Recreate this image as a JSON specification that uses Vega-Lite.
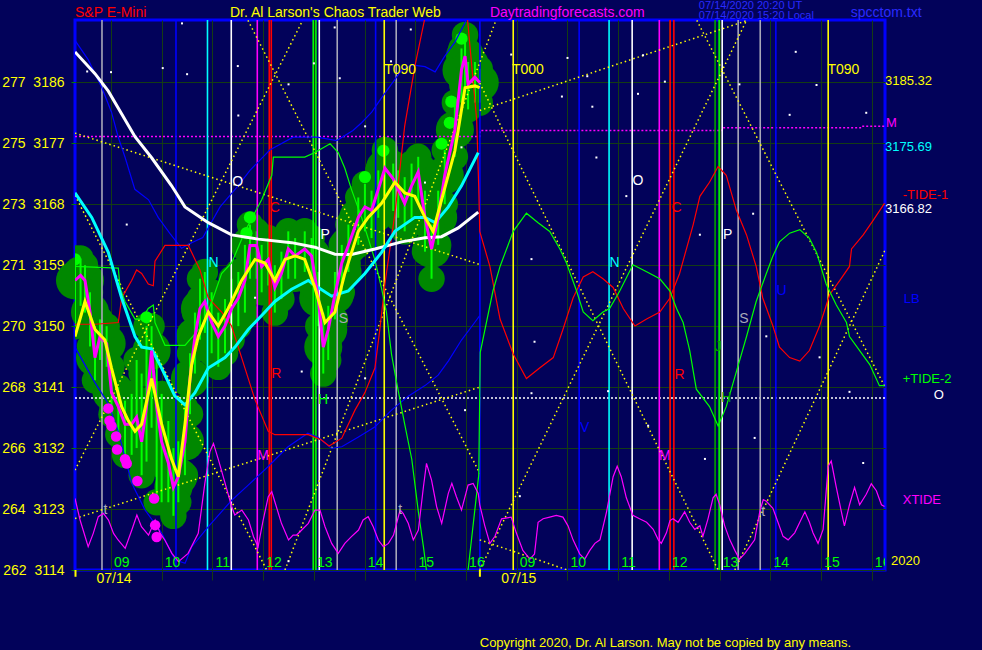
{
"$schema": "https://vega.github.io/schema/vega-lite/v6.json",
"width": 810, "height": 550,
"autosize": {"type": "none"},
"padding": {"left": 75, "top": 20, "right": 97, "bottom": 80},
"background": "#02025a",
"config": {"view": {"stroke": "#0000ff", "strokeWidth": 3}, "text": {"font": "Liberation Sans"}},
"datasets": {
"price": [
{"h":8.29,"p":3156.75,"hi":3160,"lo":3150},{"h":8.40,"p":3157.5,"hi":3160,"lo":3153},{"h":8.487,"p":3156.75,"hi":3159,"lo":3152},{"h":8.586,"p":3152.09,"hi":3155,"lo":3147},{"h":8.684,"p":3145.36,"hi":3150,"lo":3142},{"h":8.783,"p":3148.47,"hi":3151,"lo":3145},{"h":8.914,"p":3147.43,"hi":3150,"lo":3144},{"h":9.01,"p":3140.19,"hi":3144,"lo":3137},{"h":9.144,"p":3138.12,"hi":3141,"lo":3134},{"h":9.276,"p":3135.53,"hi":3139,"lo":3131},{"h":9.407,"p":3135.53,"hi":3140,"lo":3131},{"h":9.505,"p":3136.56,"hi":3145,"lo":3132},{"h":9.604,"p":3132.94,"hi":3143,"lo":3128},{"h":9.70,"p":3138.12,"hi":3150,"lo":3130},{"h":9.80,"p":3146.4,"hi":3150,"lo":3135},{"h":9.90,"p":3138.12,"hi":3146,"lo":3124},{"h":9.998,"p":3132.94,"hi":3140,"lo":3124},{"h":10.13,"p":3129.84,"hi":3136,"lo":3124},{"h":10.23,"p":3126.21,"hi":3132,"lo":3122},{"h":10.327,"p":3127.77,"hi":3133,"lo":3124},{"h":10.458,"p":3132.94,"hi":3138,"lo":3128},{"h":10.557,"p":3142.26,"hi":3146,"lo":3137},{"h":10.655,"p":3148.47,"hi":3152,"lo":3143},{"h":10.754,"p":3152.61,"hi":3157,"lo":3148},{"h":10.85,"p":3153.64,"hi":3158,"lo":3149},{"h":10.984,"p":3150.54,"hi":3155,"lo":3146},{"h":11.115,"p":3148.47,"hi":3152,"lo":3144},{"h":11.247,"p":3150.02,"hi":3154,"lo":3146},{"h":11.378,"p":3152.61,"hi":3157,"lo":3148},{"h":11.51,"p":3154.16,"hi":3158,"lo":3150},{"h":11.64,"p":3156.75,"hi":3162,"lo":3152},{"h":11.74,"p":3161.92,"hi":3165,"lo":3157},{"h":11.87,"p":3161.92,"hi":3164,"lo":3157},{"h":11.97,"p":3158.82,"hi":3162,"lo":3155},{"h":12.10,"p":3159.85,"hi":3163,"lo":3156},{"h":12.23,"p":3155.71,"hi":3159,"lo":3152},{"h":12.36,"p":3157.78,"hi":3161,"lo":3154},{"h":12.495,"p":3161.4,"hi":3164,"lo":3157},{"h":12.63,"p":3160.37,"hi":3163,"lo":3157},{"h":12.82,"p":3161.4,"hi":3164,"lo":3158},{"h":12.955,"p":3160.37,"hi":3163,"lo":3156},{"h":13.086,"p":3154.16,"hi":3158,"lo":3150},{"h":13.185,"p":3146.91,"hi":3152,"lo":3143},{"h":13.283,"p":3149.5,"hi":3153,"lo":3145},{"h":13.415,"p":3154.68,"hi":3158,"lo":3151},{"h":13.55,"p":3159.33,"hi":3162,"lo":3155},{"h":13.68,"p":3161.92,"hi":3165,"lo":3158},{"h":13.875,"p":3166.06,"hi":3169,"lo":3162},{"h":14.006,"p":3167.61,"hi":3171,"lo":3164},{"h":14.137,"p":3167.1,"hi":3170,"lo":3163},{"h":14.27,"p":3170.2,"hi":3173,"lo":3166},{"h":14.40,"p":3173.31,"hi":3176,"lo":3169},{"h":14.564,"p":3171.75,"hi":3174,"lo":3167},{"h":14.663,"p":3170.2,"hi":3173,"lo":3166},{"h":14.79,"p":3168.13,"hi":3172,"lo":3164},{"h":14.926,"p":3170.72,"hi":3174,"lo":3166},{"h":15.057,"p":3172.79,"hi":3175,"lo":3168},{"h":15.19,"p":3166.06,"hi":3170,"lo":3161},{"h":15.32,"p":3161.4,"hi":3165,"lo":3157},{"h":15.45,"p":3166.06,"hi":3170,"lo":3162},{"h":15.58,"p":3172.27,"hi":3176,"lo":3168},{"h":15.78,"p":3179.0,"hi":3183,"lo":3175},{"h":15.91,"p":3187.8,"hi":3191,"lo":3183},{"h":15.98,"p":3189.87,"hi":3193,"lo":3185},{"h":16.04,"p":3185.73,"hi":3189,"lo":3182},{"h":16.175,"p":3186.76,"hi":3189,"lo":3183},{"h":16.27,"p":3185.98,"hi":3188,"lo":3183}
],
"fast": [
{"h":8.29,"p":3148.47},{"h":8.487,"p":3153.64},{"h":8.684,"p":3149.5},{"h":8.88,"p":3147.95},{"h":9.01,"p":3143.81},{"h":9.21,"p":3138.12},{"h":9.34,"p":3136.05},{"h":9.473,"p":3134.49},{"h":9.604,"p":3135.53},{"h":9.80,"p":3142.26},{"h":9.998,"p":3135.53},{"h":10.195,"p":3130.35},{"h":10.327,"p":3127.77},{"h":10.458,"p":3135.53},{"h":10.59,"p":3144.33},{"h":10.72,"p":3148.47},{"h":10.918,"p":3152.09},{"h":11.115,"p":3150.02},{"h":11.31,"p":3152.61},{"h":11.575,"p":3156.75},{"h":11.838,"p":3159.85},{"h":12.035,"p":3159.33},{"h":12.23,"p":3156.75},{"h":12.43,"p":3159.85},{"h":12.63,"p":3160.37},{"h":12.82,"p":3159.85},{"h":13.02,"p":3155.71},{"h":13.22,"p":3150.54},{"h":13.415,"p":3152.09},{"h":13.61,"p":3157.78},{"h":13.875,"p":3163.99},{"h":14.07,"p":3166.06},{"h":14.334,"p":3168.13},{"h":14.597,"p":3171.24},{"h":14.79,"p":3169.68},{"h":14.99,"p":3169.17},{"h":15.19,"p":3166.06},{"h":15.35,"p":3163.99},{"h":15.517,"p":3168.65},{"h":15.78,"p":3175.89},{"h":15.98,"p":3185.21},{"h":16.175,"p":3185.47},{"h":16.27,"p":3185.21}
],
"ma1": [
{"h":8.29,"p":3190.49},{"h":8.684,"p":3187.28},{"h":8.947,"p":3184.69},{"h":9.473,"p":3177.96},{"h":9.801,"p":3174.86},{"h":10.195,"p":3170.72},{"h":10.458,"p":3167.61},{"h":10.918,"p":3165.28},{"h":11.378,"p":3163.47},{"h":11.904,"p":3162.85},{"h":12.56,"p":3162.33},{"h":13.02,"p":3161.66},{"h":13.415,"p":3160.63},{"h":13.743,"p":3160.58},{"h":14.203,"p":3161.4},{"h":14.729,"p":3162.44},{"h":15.19,"p":3163.06},{"h":15.517,"p":3163.21},{"h":15.846,"p":3164.51},{"h":16.24,"p":3166.84}
],
"ma2": [
{"h":8.29,"p":3169.68},{"h":8.62,"p":3166.06},{"h":8.947,"p":3160.89},{"h":9.21,"p":3154.16},{"h":9.473,"p":3148.47},{"h":9.604,"p":3146.91},{"h":9.80,"p":3146.65},{"h":9.998,"p":3143.81},{"h":10.26,"p":3139.67},{"h":10.458,"p":3138.37},{"h":10.655,"p":3140.19},{"h":10.918,"p":3143.81},{"h":11.247,"p":3145.36},{"h":11.444,"p":3146.91},{"h":11.706,"p":3149.5},{"h":11.97,"p":3151.57},{"h":12.23,"p":3153.64},{"h":12.56,"p":3155.45},{"h":12.89,"p":3156.75},{"h":13.086,"p":3155.71},{"h":13.35,"p":3154.42},{"h":13.677,"p":3155.19},{"h":14.006,"p":3157.78},{"h":14.334,"p":3160.89},{"h":14.597,"p":3163.99},{"h":14.99,"p":3166.06},{"h":15.19,"p":3166.06},{"h":15.39,"p":3165.28},{"h":15.65,"p":3167.61},{"h":15.91,"p":3170.72},{"h":16.24,"p":3175.63}
],
"tide1": [
{"h":8.29,"p":3150.28},{"h":8.684,"p":3150.28},{"h":9.144,"p":3150.54},{"h":9.21,"p":3154.16},{"h":9.407,"p":3156.75},{"h":9.505,"p":3158.3},{"h":9.604,"p":3157.78},{"h":9.735,"p":3156.23},{"h":9.834,"p":3155.97},{"h":9.867,"p":3159.59},{"h":10.064,"p":3161.92},{"h":10.524,"p":3161.92},{"h":10.754,"p":3158.3},{"h":10.918,"p":3154.16},{"h":11.18,"p":3152.09},{"h":11.378,"p":3150.02},{"h":11.575,"p":3145.36},{"h":11.838,"p":3139.15},{"h":12.10,"p":3134.49},{"h":12.23,"p":3133.98},{"h":12.89,"p":3133.98},{"h":13.15,"p":3133.2},{"h":13.30,"p":3132.3},{"h":13.55,"p":3133.46},{"h":13.81,"p":3137.6},{"h":14.006,"p":3140.19},{"h":14.203,"p":3143.81},{"h":14.30,"p":3149.5},{"h":14.40,"p":3156.23},{"h":14.597,"p":3166.58},{"h":14.79,"p":3179.52},{"h":14.99,"p":3188.31},{"h":15.19,"p":3195.56},{"h":15.5,"p":3203},{"h":15.9,"p":3203},{"h":16.03,"p":3195.2},{"h":16.21,"p":3180.4},{"h":16.25,"p":3170.5},{"h":16.27,"p":3164.0},{"h":16.47,"p":3158.82},{"h":16.67,"p":3151.05},{"h":16.93,"p":3145.88},{"h":17.19,"p":3142.26},{"h":17.45,"p":3143.81},{"h":17.72,"p":3145.36},{"h":17.91,"p":3149.5},{"h":18.11,"p":3154.16},{"h":18.31,"p":3157.26},{"h":18.5,"p":3158.04},{"h":18.7,"p":3157.0},{"h":18.9,"p":3155.71},{"h":19.1,"p":3152.61},{"h":19.33,"p":3150.02},{"h":19.56,"p":3151.05},{"h":19.82,"p":3152.09},{"h":20.02,"p":3154.16},{"h":20.21,"p":3157.78},{"h":20.48,"p":3165.03},{"h":20.61,"p":3169.17},{"h":20.8,"p":3171.24},{"h":20.97,"p":3173.56},{"h":21.13,"p":3172.27},{"h":21.33,"p":3167.1},{"h":21.53,"p":3163.47},{"h":21.72,"p":3158.82},{"h":21.85,"p":3154.16},{"h":22.05,"p":3150.02},{"h":22.18,"p":3146.91},{"h":22.38,"p":3145.36},{"h":22.58,"p":3144.84},{"h":22.77,"p":3146.4},{"h":22.97,"p":3150.02},{"h":23.17,"p":3154.68},{"h":23.37,"p":3156.75},{"h":23.56,"p":3158.82},{"h":23.6,"p":3161.4},{"h":23.83,"p":3163.47},{"h":24.02,"p":3165.54},{"h":24.25,"p":3168.13}
],
"tide2": [
{"h":8.29,"p":3158.82},{"h":9.144,"p":3158.56},{"h":9.177,"p":3155.71},{"h":9.276,"p":3153.64},{"h":9.473,"p":3151.05},{"h":9.604,"p":3151.05},{"h":9.735,"p":3152.61},{"h":9.834,"p":3153.12},{"h":9.867,"p":3150.54},{"h":10.064,"p":3147.17},{"h":10.458,"p":3147.17},{"h":10.787,"p":3150.0},{"h":10.984,"p":3153.5},{"h":11.18,"p":3157.78},{"h":11.378,"p":3159.33},{"h":11.64,"p":3163.99},{"h":11.97,"p":3168.65},{"h":12.17,"p":3172.27},{"h":12.2,"p":3174.96},{"h":12.82,"p":3174.96},{"h":13.02,"p":3175.63},{"h":13.32,"p":3176.93},{"h":13.48,"p":3175.63},{"h":13.61,"p":3173.31},{"h":13.74,"p":3170.2},{"h":13.94,"p":3166.06},{"h":14.07,"p":3162.96},{"h":14.2,"p":3159.85},{"h":14.33,"p":3155.71},{"h":14.43,"p":3152.09},{"h":14.53,"p":3145.88},{"h":14.63,"p":3141.74},{"h":14.79,"p":3135.53},{"h":14.93,"p":3130.35},{"h":15.06,"p":3122.59},{"h":15.16,"p":3117.42},{"h":15.25,"p":3112.2},{"h":15.6,"p":3100},{"h":15.95,"p":3105},{"h":16.04,"p":3114},{"h":16.25,"p":3128},{"h":16.28,"p":3146.14},{"h":16.53,"p":3155.19},{"h":16.67,"p":3158.82},{"h":16.93,"p":3163.99},{"h":17.19,"p":3166.68},{"h":17.42,"p":3165.28},{"h":17.65,"p":3163.99},{"h":17.85,"p":3161.4},{"h":17.98,"p":3159.33},{"h":18.18,"p":3155.19},{"h":18.31,"p":3152.09},{"h":18.5,"p":3150.79},{"h":18.7,"p":3152.09},{"h":18.83,"p":3152.61},{"h":19.03,"p":3155.19},{"h":19.29,"p":3159.07},{"h":19.56,"p":3158.04},{"h":19.82,"p":3157.0},{"h":20.02,"p":3155.19},{"h":20.15,"p":3152.61},{"h":20.28,"p":3150.54},{"h":20.41,"p":3146.4},{"h":20.54,"p":3140.7},{"h":20.8,"p":3138.12},{"h":20.97,"p":3135.27},{"h":21.13,"p":3138.12},{"h":21.33,"p":3143.29},{"h":21.53,"p":3148.47},{"h":21.72,"p":3153.64},{"h":21.92,"p":3157.78},{"h":22.05,"p":3160.37},{"h":22.18,"p":3162.44},{"h":22.38,"p":3163.73},{"h":22.58,"p":3164.25},{"h":22.77,"p":3162.96},{"h":22.91,"p":3160.89},{"h":23.1,"p":3156.23},{"h":23.3,"p":3153.12},{"h":23.5,"p":3150.54},{"h":23.56,"p":3148.47},{"h":23.76,"p":3146.4},{"h":23.96,"p":3144.33},{"h":24.15,"p":3141.22},{"h":24.25,"p":3141.22}
],
"lb": [
{"seg":1,"h":8.29,"p":3192.19},{"seg":1,"h":8.55,"p":3189.35},{"seg":1,"h":8.82,"p":3185.21},{"seg":1,"h":9.01,"p":3181.59},{"seg":1,"h":9.14,"p":3177.96},{"seg":1,"h":9.28,"p":3174.86},{"seg":1,"h":9.47,"p":3170.2},{"seg":1,"h":9.74,"p":3168.65},{"seg":1,"h":9.93,"p":3166.06},{"seg":1,"h":10.16,"p":3163.7},{"seg":1,"h":10.39,"p":3161.5},{"seg":1,"h":10.56,"p":3162.2},{"seg":1,"h":10.81,"p":3163.1},{"seg":1,"h":11.15,"p":3167.6},{"seg":1,"h":11.48,"p":3170.5},{"seg":1,"h":11.74,"p":3173.0},{"seg":1,"h":12.13,"p":3176.0},{"seg":1,"h":12.59,"p":3177.9},{"seg":1,"h":13.06,"p":3177.9},{"seg":1,"h":13.45,"p":3177.4},{"seg":1,"h":13.77,"p":3178.9},{"seg":1,"h":13.94,"p":3180.03},{"seg":1,"h":14.14,"p":3181.59},{"seg":1,"h":14.33,"p":3183.66},{"seg":1,"h":14.53,"p":3185.73},{"seg":1,"h":14.73,"p":3187.8},{"seg":1,"h":14.93,"p":3188.57},{"seg":1,"h":15.19,"p":3188.31},{"seg":1,"h":15.39,"p":3187.54},{"seg":1,"h":15.58,"p":3189.87},{"seg":1,"h":15.78,"p":3191.94},{"seg":1,"h":15.98,"p":3194.78},{"seg":1,"h":16.05,"p":3196},
{"seg":2,"h":8.29,"p":3146.9},{"seg":2,"h":8.68,"p":3141.7},{"seg":2,"h":8.95,"p":3138.5},{"seg":2,"h":9.14,"p":3134.5},{"seg":2,"h":9.41,"p":3126.8},{"seg":2,"h":9.67,"p":3122.85},{"seg":2,"h":10.0,"p":3119.46},{"seg":2,"h":10.26,"p":3115.5},{"seg":2,"h":10.46,"p":3115.0},{"seg":2,"h":10.59,"p":3117.4},{"seg":2,"h":10.92,"p":3120.4},{"seg":2,"h":11.38,"p":3124.3},{"seg":2,"h":11.7,"p":3126.5},{"seg":2,"h":12.09,"p":3129.2},{"seg":2,"h":12.49,"p":3132.2},{"seg":2,"h":12.88,"p":3134.2},{"seg":2,"h":13.08,"p":3133.6},{"seg":2,"h":13.35,"p":3131.96},{"seg":2,"h":13.55,"p":3132.2},{"seg":2,"h":13.87,"p":3133.6},{"seg":2,"h":14.2,"p":3135.1},{"seg":2,"h":14.53,"p":3137.6},{"seg":2,"h":14.86,"p":3139.67},{"seg":2,"h":15.19,"p":3141.22},{"seg":2,"h":15.45,"p":3142.77},{"seg":2,"h":15.65,"p":3144.84},{"seg":2,"h":15.91,"p":3147.95},{"seg":2,"h":16.17,"p":3150.54},{"seg":2,"h":16.27,"p":3151.57}
],
"xtide": [
{"h":8.29,"p":3124.57},{"h":8.39,"p":3121.38},{"h":8.55,"p":3117.44},{"h":8.65,"p":3119.41},{"h":8.75,"p":3121.87},{"h":8.85,"p":3122.36},{"h":8.95,"p":3121.38},{"h":9.05,"p":3119.41},{"h":9.14,"p":3118.43},{"h":9.28,"p":3117.2},{"h":9.41,"p":3119.9},{"h":9.51,"p":3122.11},{"h":9.6,"p":3120.39},{"h":9.74,"p":3119.16},{"h":9.87,"p":3121.38},{"h":9.97,"p":3119.41},{"h":10.06,"p":3118.43},{"h":10.2,"p":3116.46},{"h":10.33,"p":3115.23},{"h":10.52,"p":3116.46},{"h":10.72,"p":3119.41},{"h":10.85,"p":3126.79},{"h":10.95,"p":3131.46},{"h":11.02,"p":3132.69},{"h":11.12,"p":3130.23},{"h":11.25,"p":3126.79},{"h":11.38,"p":3123.34},{"h":11.44,"p":3122.11},{"h":11.58,"p":3122.85},{"h":11.71,"p":3121.38},{"h":11.81,"p":3118.92},{"h":11.9,"p":3117.44},{"h":12.0,"p":3121.38},{"h":12.1,"p":3124.82},{"h":12.17,"p":3125.56},{"h":12.23,"p":3124.08},{"h":12.36,"p":3120.89},{"h":12.5,"p":3118.43},{"h":12.59,"p":3119.16},{"h":12.66,"p":3119.16},{"h":12.76,"p":3119.9},{"h":12.89,"p":3120.89},{"h":13.02,"p":3122.85},{"h":13.12,"p":3122.85},{"h":13.22,"p":3120.39},{"h":13.35,"p":3117.93},{"h":13.48,"p":3116.46},{"h":13.61,"p":3117.93},{"h":13.74,"p":3118.92},{"h":13.88,"p":3119.9},{"h":13.97,"p":3121.38},{"h":14.07,"p":3121.87},{"h":14.17,"p":3120.39},{"h":14.27,"p":3118.43},{"h":14.37,"p":3117.44},{"h":14.47,"p":3117.93},{"h":14.57,"p":3119.16},{"h":14.7,"p":3122.85},{"h":14.76,"p":3122.36},{"h":14.86,"p":3120.89},{"h":14.96,"p":3118.43},{"h":15.06,"p":3119.9},{"h":15.16,"p":3126.29},{"h":15.22,"p":3129.74},{"h":15.32,"p":3127.28},{"h":15.42,"p":3123.34},{"h":15.52,"p":3120.89},{"h":15.65,"p":3125.31},{"h":15.72,"p":3126.79},{"h":15.81,"p":3124.82},{"h":15.91,"p":3122.85},{"h":16.04,"p":3126.54},{"h":16.14,"p":3126.79},{"h":16.24,"p":3125.31},
{"h":16.27,"p":3123.63},{"h":16.37,"p":3120.52},{"h":16.47,"p":3117.93},{"h":16.57,"p":3118.97},{"h":16.7,"p":3121.56},{"h":16.89,"p":3121.81},{"h":16.99,"p":3119.49},{"h":17.12,"p":3116.9},{"h":17.26,"p":3115.6},{"h":17.35,"p":3116.38},{"h":17.42,"p":3121.04},{"h":17.52,"p":3121.56},{"h":17.65,"p":3121.81},{"h":17.78,"p":3122.07},{"h":17.91,"p":3121.81},{"h":18.01,"p":3120.52},{"h":18.11,"p":3118.45},{"h":18.24,"p":3116.38},{"h":18.34,"p":3115.6},{"h":18.44,"p":3116.9},{"h":18.54,"p":3117.93},{"h":18.64,"p":3118.45},{"h":18.77,"p":3122.59},{"h":18.9,"p":3127.77},{"h":18.98,"p":3129.32},{"h":19.06,"p":3127.77},{"h":19.16,"p":3124.66},{"h":19.29,"p":3122.07},{"h":19.42,"p":3121.56},{"h":19.56,"p":3121.04},{"h":19.69,"p":3120.0},{"h":19.79,"p":3118.45},{"h":19.85,"p":3117.93},{"h":19.95,"p":3119.49},{"h":20.02,"p":3121.3},{"h":20.08,"p":3121.56},{"h":20.18,"p":3121.04},{"h":20.31,"p":3122.59},{"h":20.41,"p":3121.04},{"h":20.51,"p":3120.0},{"h":20.61,"p":3120.52},{"h":20.67,"p":3118.97},{"h":20.77,"p":3121.56},{"h":20.87,"p":3124.66},{"h":20.93,"p":3125.18},{"h":21.0,"p":3123.63},{"h":21.1,"p":3120.52},{"h":21.2,"p":3118.45},{"h":21.3,"p":3116.9},{"h":21.39,"p":3115.6},{"h":21.49,"p":3116.38},{"h":21.59,"p":3117.42},{"h":21.69,"p":3118.45},{"h":21.79,"p":3122.59},{"h":21.86,"p":3124.4},{"h":21.92,"p":3124.14},{"h":22.05,"p":3123.11},{"h":22.15,"p":3121.04},{"h":22.25,"p":3118.97},{"h":22.35,"p":3118.45},{"h":22.48,"p":3119.49},{"h":22.58,"p":3121.04},{"h":22.68,"p":3122.59},{"h":22.77,"p":3121.04},{"h":22.84,"p":3119.49},{"h":22.94,"p":3117.93},{"h":23.04,"p":3120.0},{"h":23.14,"p":3129.32},{"h":23.2,"p":3130.09},{"h":23.3,"p":3126.21},{"h":23.4,"p":3122.59},{"h":23.46,"p":3120.52},{"h":23.56,"p":3123.63},{"h":23.66,"p":3126.21},{"h":23.76,"p":3123.63},{"h":23.89,"p":3125.18},{"h":23.99,"p":3126.73},{"h":24.09,"p":3125.7},{"h":24.19,"p":3123.63},{"h":24.25,"p":3123.37}
],
"vlines": [
{"h":8.822,"k":"gray"},{"h":10.281,"k":"blue"},{"h":10.902,"k":"cyan"},{"h":11.371,"k":"white"},{"h":11.884,"k":"magenta"},{"h":12.12,"k":"red"},{"h":12.16,"k":"red"},{"h":12.987,"k":"green"},{"h":13.04,"k":"green"},{"h":13.106,"k":"white"},{"h":13.46,"k":"gray"},{"h":14.217,"k":"blue"},{"h":14.387,"k":"yellow"},{"h":14.623,"k":"gray"},{"h":16.273,"k":"blue"},
{"h":16.93,"k":"yellow"},{"h":18.23,"k":"blue"},{"h":18.82,"k":"cyan"},{"h":19.275,"k":"white"},{"h":19.81,"k":"magenta"},{"h":20.024,"k":"red"},{"h":20.097,"k":"red"},{"h":20.91,"k":"dkgreen"},{"h":20.99,"k":"green"},{"h":21.05,"k":"white"},{"h":21.365,"k":"gray"},{"h":21.8,"k":"gray"},{"h":22.108,"k":"blue"},{"h":23.14,"k":"yellow"}
],
"diag": [
{"id":"a","h":8.29,"p":3178.5},{"id":"a","h":16.27,"p":3159.1},
{"id":"b","h":8.29,"p":3121.6},{"id":"b","h":16.27,"p":3141.0},
{"id":"B","h":8.29,"p":3128.75},{"id":"B","h":12.78,"p":3195.15},
{"id":"C","h":8.29,"p":3169.3},{"id":"C","h":12.07,"p":3114},
{"id":"D","h":11.7,"p":3195.15},{"id":"D","h":16.27,"p":3128.3},
{"id":"E","h":12.43,"p":3114},{"id":"E","h":16.59,"p":3195.15},
{"id":"c","h":16.27,"p":3181.84},{"id":"c","h":21.53,"p":3195.1},
{"id":"d","h":16.27,"p":3118.45},{"id":"d","h":17.98,"p":3114.05},
{"id":"g","h":16.27,"p":3185.9},{"id":"g","h":20.97,"p":3114},
{"id":"h2","h":16.27,"p":3114},{"id":"h2","h":21.53,"p":3195.15},
{"id":"i","h":20.55,"p":3195.15},{"id":"i","h":24.26,"p":3141},
{"id":"j","h":21.3,"p":3114},{"id":"j","h":24.26,"p":3161.2}
],
"mline": [{"h":8.29,"p":3178.0},{"h":16.27,"p":3178.0},{"h":16.28,"p":3178.9},{"h":21.05,"p":3178.9},{"h":21.06,"p":3179.3},{"h":23.8,"p":3179.3},{"h":23.81,"p":3179.5},{"h":24.26,"p":3179.5}],
"oline": [{"h":8.29,"p":3139.4},{"h":24.26,"p":3139.4}],
"lows": [{"h":8.947,"p":3137.86},{"h":8.97,"p":3136.05},{"h":9.01,"p":3135.27},{"h":9.1,"p":3133.72},{"h":9.12,"p":3131.8},{"h":9.276,"p":3130.35},{"h":9.31,"p":3129.73},{"h":9.52,"p":3127.14},{"h":9.85,"p":3124.56},{"h":9.87,"p":3120.62},{"h":9.9,"p":3118.86}],
"highs": [{"h":8.29,"p":3159.85},{"h":9.7,"p":3151.31},{"h":11.74,"p":3166.06},{"h":11.67,"p":3163.73},{"h":14.006,"p":3172.01},{"h":14.37,"p":3175.89},{"h":15.517,"p":3176.93},{"h":15.68,"p":3180.03},{"h":15.71,"p":3183.14},{"h":15.91,"p":3192.45}],
"stars": [
{"h":10.4,"p":3194.7},{"h":10.02,"p":3188.1},{"h":10.5,"p":3187.2},{"h":11.5,"p":3188.4},{"h":13.0,"p":3188.8},{"h":13.41,"p":3194.1},{"h":13.51,"p":3186.6},{"h":14.91,"p":3193.8},{"h":14.52,"p":3189.1},{"h":9.0,"p":3187.5},{"h":8.53,"p":3187.6},{"h":9.31,"p":3165.0},{"h":11.51,"p":3181.1},{"h":12.5,"p":3185.7},{"h":14.01,"p":3179.5},{"h":15.19,"p":3171.2},{"h":15.91,"p":3176.4},{"h":12.76,"p":3143.3},{"h":14.01,"p":3142.3},{"h":15.98,"p":3137.6},{"h":11.84,"p":3154.2},{"h":12.5,"p":3115.3},{"h":10.69,"p":3147.4},
{"h":18.0,"p":3189.6},{"h":19.49,"p":3190.0},{"h":18.39,"p":3186.9},{"h":16.89,"p":3190.1},{"h":17.89,"p":3183.9},{"h":18.49,"p":3182.4},{"h":19.39,"p":3184.3},{"h":22.91,"p":3185.6},{"h":22.38,"p":3181.2},{"h":23.89,"p":3181.5},{"h":22.5,"p":3190.5},{"h":21.39,"p":3185.7},{"h":21.66,"p":3166.6},{"h":20.61,"p":3163.5},{"h":19.92,"p":3186.1},{"h":17.29,"p":3159.9},{"h":17.35,"p":3147.7},{"h":19.16,"p":3169.2},{"h":18.8,"p":3140.4},{"h":17.29,"p":3140.1},{"h":19.59,"p":3135.3},{"h":20.71,"p":3130.4},{"h":21.69,"p":3133.5},{"h":22.97,"p":3145.4},{"h":23.56,"p":3140.3},{"h":21.92,"p":3148.5},{"h":18.57,"p":3174.9},{"h":17.06,"p":3124.9},{"h":23.83,"p":3129.8}
],
"letters": [
{"h":11.5,"p":3171.3,"t":"O","k":"white"},{"h":11.02,"p":3159.3,"t":"N","k":"cyan"},{"h":12.23,"p":3167.4,"t":"C","k":"red"},{"h":13.22,"p":3163.4,"t":"P","k":"white"},{"h":13.58,"p":3151.1,"t":"S","k":"gray"},{"h":12.26,"p":3142.9,"t":"R","k":"red"},{"h":12.0,"p":3130.9,"t":"M","k":"magenta"},{"h":13.18,"p":3139.1,"t":"H","k":"green"},{"h":8.89,"p":3122.8,"t":"t","k":"gray"},{"h":14.7,"p":3122.8,"t":"t","k":"gray"},{"h":14.7,"p":3187.8,"t":"T090","k":"yellow"},
{"h":19.39,"p":3171.4,"t":"O","k":"white"},{"h":18.93,"p":3159.3,"t":"N","k":"cyan"},{"h":20.15,"p":3167.4,"t":"C","k":"red"},{"h":21.16,"p":3163.5,"t":"P","k":"white"},{"h":21.48,"p":3151.1,"t":"S","k":"gray"},{"h":20.21,"p":3142.8,"t":"R","k":"red"},{"h":19.92,"p":3130.9,"t":"M","k":"magenta"},{"h":20.97,"p":3146.9,"t":"J","k":"dkgreen"},{"h":21.13,"p":3139.4,"t":"H","k":"dkgreen"},{"h":21.86,"p":3122.6,"t":"t","k":"gray"},{"h":18.34,"p":3135.0,"t":"V","k":"blue"},{"h":22.22,"p":3155.2,"t":"U","k":"blue"},{"h":17.22,"p":3187.8,"t":"T000","k":"yellow"},{"h":23.44,"p":3187.8,"t":"T090","k":"yellow"}
],
"hrs": [
{"h":9.06,"t":"09"},{"h":10.06,"t":"10"},{"h":11.06,"t":"11"},{"h":12.06,"t":"12"},{"h":13.06,"t":"13"},{"h":14.06,"t":"14"},{"h":15.06,"t":"15"},{"h":16.06,"t":"16"},{"h":17.06,"t":"09"},{"h":18.06,"t":"10"},{"h":19.06,"t":"11"},{"h":20.06,"t":"12"},{"h":21.06,"t":"13"},{"h":22.06,"t":"14"},{"h":23.06,"t":"15"},{"h":24.06,"t":"16"}
],
"side": [
{"h":24.26,"p":3186.15,"t":"3185.32","k":"yellow"},{"h":24.28,"p":3180.0,"t":"M","k":"magenta"},{"h":24.26,"p":3176.5,"t":"3175.69","k":"cyan"},{"h":24.61,"p":3169.3,"t":"-TIDE-1","k":"red"},{"h":24.26,"p":3167.3,"t":"3166.82","k":"white"},{"h":24.63,"p":3154.0,"t":"LB","k":"blue"},{"h":24.61,"p":3142.2,"t":"+TIDE-2","k":"green"},{"h":25.22,"p":3139.9,"t":"O","k":"white"},{"h":24.61,"p":3124.3,"t":"XTIDE","k":"magenta"},{"h":24.38,"p":3115.3,"t":"2020","k":"yellow"},{"h":16.27,"p":3103.2,"t":"Copyright 2020, Dr. Al Larson. May not be copied by any means.","k":"yellow"}
],
"titles": [
{"h":8.29,"p":3196.2,"t":"S&P E-Mini","k":"red"},{"h":11.345,"p":3196.2,"t":"Dr. Al Larson's Chaos Trader Web","k":"yellow"},{"h":16.47,"p":3196.2,"t":"Daytradingforecasts.com","k":"magenta"},{"h":23.586,"p":3196.3,"t":"spcctom.txt","k":"navy"}
],
"small": [
{"h":20.59,"p":3197.3,"t":"07/14/2020 20:20  UT"},{"h":20.59,"p":3195.8,"t":"07/14/2020 15:20  Local"}
],
"dates": [{"h":9.06,"p":3112.67,"t":"07/14"},{"h":17.04,"p":3112.67,"t":"07/15"}],
"dayticks": [{"h":8.3},{"h":16.273}]
},
"layer": [
{"data":{"name":"price"},"mark":{"type":"circle","color":"#008800","opacity":1,"size":1450},
 "encoding":{
  "x":{"field":"h","type":"quantitative","title":null,"scale":{"domain":[8.29,24.26],"nice":false,"zero":false},
       "axis":{"values":[9,10,11,12,13,14,15,16,17,18,19,20,21,22,23,24],"grid":true,"gridColor":"#143c14","gridOpacity":1,"labels":false,"ticks":true,"tickColor":"#143c14","tickSize":10,"domain":false,"title":null}},
  "y":{"field":"p","type":"quantitative","title":null,"scale":{"domain":[3114,3195.2],"nice":false,"zero":false},
       "axis":{"values":[3114,3123,3132,3141,3150,3159,3168,3177,3186],"grid":true,"gridColor":"#143c14","gridOpacity":1,"domain":false,"title":null,"tickColor":"#008000","tickSize":4,"labelPadding":7,"labelColor":"#ffff00","labelFont":"Liberation Sans","labelFontSize":14,
       "labelExpr":"(datum.value==3114?'262':datum.value==3123?'264':datum.value==3132?'266':datum.value==3141?'268':datum.value==3150?'270':datum.value==3159?'271':datum.value==3168?'273':datum.value==3177?'275':'277') + '\u00a0\u00a0' + datum.value"}}}},
{"data":{"name":"price"},"mark":{"type":"circle","color":"#008800","opacity":1,"size":700,"clip":true},
 "encoding":{"x":{"field":"h","type":"quantitative","title":null},"y":{"field":"hi","type":"quantitative","title":null}}},
{"data":{"name":"price"},"mark":{"type":"circle","color":"#008800","opacity":1,"size":700,"clip":true},
 "encoding":{"x":{"field":"h","type":"quantitative","title":null},"y":{"field":"lo","type":"quantitative","title":null}}},
{"data":{"name":"mline"},"mark":{"type":"line","color":"#ff00ff","strokeWidth":1.5,"strokeDash":[2,2],"clip":true},
 "encoding":{"x":{"field":"h","type":"quantitative","title":null},"y":{"field":"p","type":"quantitative","title":null}}},
{"data":{"name":"oline"},"mark":{"type":"line","color":"#ffffff","strokeWidth":1.5,"strokeDash":[2,2],"clip":true},
 "encoding":{"x":{"field":"h","type":"quantitative","title":null},"y":{"field":"p","type":"quantitative","title":null}}},
{"data":{"name":"price"},"mark":{"type":"rule","color":"#00ff00","strokeWidth":2,"clip":true},
 "encoding":{"x":{"field":"h","type":"quantitative","title":null},"y":{"field":"lo","type":"quantitative","title":null},"y2":{"field":"hi"}}},
{"data":{"name":"highs"},"mark":{"type":"circle","color":"#00ff00","opacity":1,"size":150,"clip":true},
 "encoding":{"x":{"field":"h","type":"quantitative","title":null},"y":{"field":"p","type":"quantitative","title":null}}},
{"data":{"name":"vlines"},"mark":{"type":"rule","strokeWidth":1.6},
 "encoding":{"x":{"field":"h","type":"quantitative","title":null},
  "color":{"field":"k","type":"nominal","legend":null,"scale":{"domain":["gray","white","cyan","blue","magenta","red","green","dkgreen","yellow","navy"],"range":["#a8a8b8","#ffffff","#00ffff","#0000ff","#ff00ff","#ff0000","#00ff00","#00a000","#ffff00","#2a2aff"]}}}},
{"data":{"name":"diag"},"mark":{"type":"line","color":"#ffff00","strokeWidth":1.5,"strokeDash":[1.5,3],"clip":true},
 "encoding":{"x":{"field":"h","type":"quantitative","title":null},"y":{"field":"p","type":"quantitative","title":null},"detail":{"field":"id"}}},
{"data":{"name":"lb"},"mark":{"type":"line","color":"#0000ff","strokeWidth":1.2,"clip":true},
 "encoding":{"x":{"field":"h","type":"quantitative","title":null},"y":{"field":"p","type":"quantitative","title":null},"detail":{"field":"seg"}}},
{"data":{"name":"tide1"},"mark":{"type":"line","color":"#ff0000","strokeWidth":1.2,"clip":true},
 "encoding":{"x":{"field":"h","type":"quantitative","title":null},"y":{"field":"p","type":"quantitative","title":null}}},
{"data":{"name":"tide2"},"mark":{"type":"line","color":"#00ff00","strokeWidth":1.2,"clip":true},
 "encoding":{"x":{"field":"h","type":"quantitative","title":null},"y":{"field":"p","type":"quantitative","title":null}}},
{"data":{"name":"xtide"},"mark":{"type":"line","color":"#ff00ff","strokeWidth":1.2,"clip":true},
 "encoding":{"x":{"field":"h","type":"quantitative","title":null},"y":{"field":"p","type":"quantitative","title":null}}},
{"data":{"name":"ma1"},"mark":{"type":"line","color":"#ffffff","strokeWidth":3,"clip":true},
 "encoding":{"x":{"field":"h","type":"quantitative","title":null},"y":{"field":"p","type":"quantitative","title":null}}},
{"data":{"name":"ma2"},"mark":{"type":"line","color":"#00ffff","strokeWidth":3,"clip":true},
 "encoding":{"x":{"field":"h","type":"quantitative","title":null},"y":{"field":"p","type":"quantitative","title":null}}},
{"data":{"name":"stars"},"mark":{"type":"square","color":"#ffffff","opacity":1,"size":4},
 "encoding":{"x":{"field":"h","type":"quantitative","title":null},"y":{"field":"p","type":"quantitative","title":null}}},
{"data":{"name":"lows"},"mark":{"type":"circle","color":"#ff00ff","opacity":1,"size":110},
 "encoding":{"x":{"field":"h","type":"quantitative","title":null},"y":{"field":"p","type":"quantitative","title":null}}},
{"data":{"name":"price"},"mark":{"type":"line","color":"#ff00ff","strokeWidth":3,"clip":true},
 "encoding":{"x":{"field":"h","type":"quantitative","title":null},"y":{"field":"p","type":"quantitative","title":null}}},
{"data":{"name":"fast"},"mark":{"type":"line","color":"#ffff00","strokeWidth":3,"clip":true},
 "encoding":{"x":{"field":"h","type":"quantitative","title":null},"y":{"field":"p","type":"quantitative","title":null}}},
{"data":{"name":"dayticks"},"mark":{"type":"rule","color":"#ffff00","strokeWidth":2},
 "encoding":{"x":{"field":"h","type":"quantitative","title":null},"y":{"datum":3114,"type":"quantitative","title":null},"y2":{"datum":3113.0}}},
{"data":{"name":"letters"},"mark":{"type":"text","fontSize":14,"align":"center","baseline":"middle","font":"Liberation Sans"},
 "encoding":{"x":{"field":"h","type":"quantitative","title":null},"y":{"field":"p","type":"quantitative","title":null},"text":{"field":"t"},
  "color":{"field":"k","type":"nominal","legend":null,"scale":{"domain":["gray","white","cyan","blue","magenta","red","green","dkgreen","yellow","navy"],"range":["#a8a8b8","#ffffff","#00ffff","#0000ff","#ff00ff","#ff0000","#00ff00","#00a000","#ffff00","#2a2aff"]}}}},
{"data":{"name":"hrs"},"mark":{"type":"text","fontSize":14,"align":"left","baseline":"alphabetic","color":"#00ff00","clip":true,"font":"Liberation Sans"},
 "encoding":{"x":{"field":"h","type":"quantitative","title":null},"y":{"datum":3114.4,"type":"quantitative","title":null},"text":{"field":"t"}}},
{"data":{"name":"side"},"mark":{"type":"text","fontSize":13,"align":"left","baseline":"middle","font":"Liberation Sans"},
 "encoding":{"x":{"field":"h","type":"quantitative","title":null},"y":{"field":"p","type":"quantitative","title":null},"text":{"field":"t"},
  "color":{"field":"k","type":"nominal","legend":null,"scale":{"domain":["gray","white","cyan","blue","magenta","red","green","dkgreen","yellow","navy"],"range":["#a8a8b8","#ffffff","#00ffff","#0000ff","#ff00ff","#ff0000","#00ff00","#00a000","#ffff00","#2a2aff"]}}}},
{"data":{"name":"titles"},"mark":{"type":"text","fontSize":14,"align":"left","baseline":"middle","font":"Liberation Sans"},
 "encoding":{"x":{"field":"h","type":"quantitative","title":null},"y":{"field":"p","type":"quantitative","title":null},"text":{"field":"t"},
  "color":{"field":"k","type":"nominal","legend":null,"scale":{"domain":["gray","white","cyan","blue","magenta","red","green","dkgreen","yellow","navy"],"range":["#a8a8b8","#ffffff","#00ffff","#0000ff","#ff00ff","#ff0000","#00ff00","#00a000","#ffff00","#2a2aff"]}}}},
{"data":{"name":"small"},"mark":{"type":"text","fontSize":11,"align":"left","baseline":"middle","color":"#2a2aff","font":"Liberation Sans"},
 "encoding":{"x":{"field":"h","type":"quantitative","title":null},"y":{"field":"p","type":"quantitative","title":null},"text":{"field":"t"}}},
{"data":{"name":"dates"},"mark":{"type":"text","fontSize":14,"align":"center","baseline":"middle","color":"#ffff00","font":"Liberation Sans"},
 "encoding":{"x":{"field":"h","type":"quantitative","title":null},"y":{"field":"p","type":"quantitative","title":null},"text":{"field":"t"}}}
]
}
